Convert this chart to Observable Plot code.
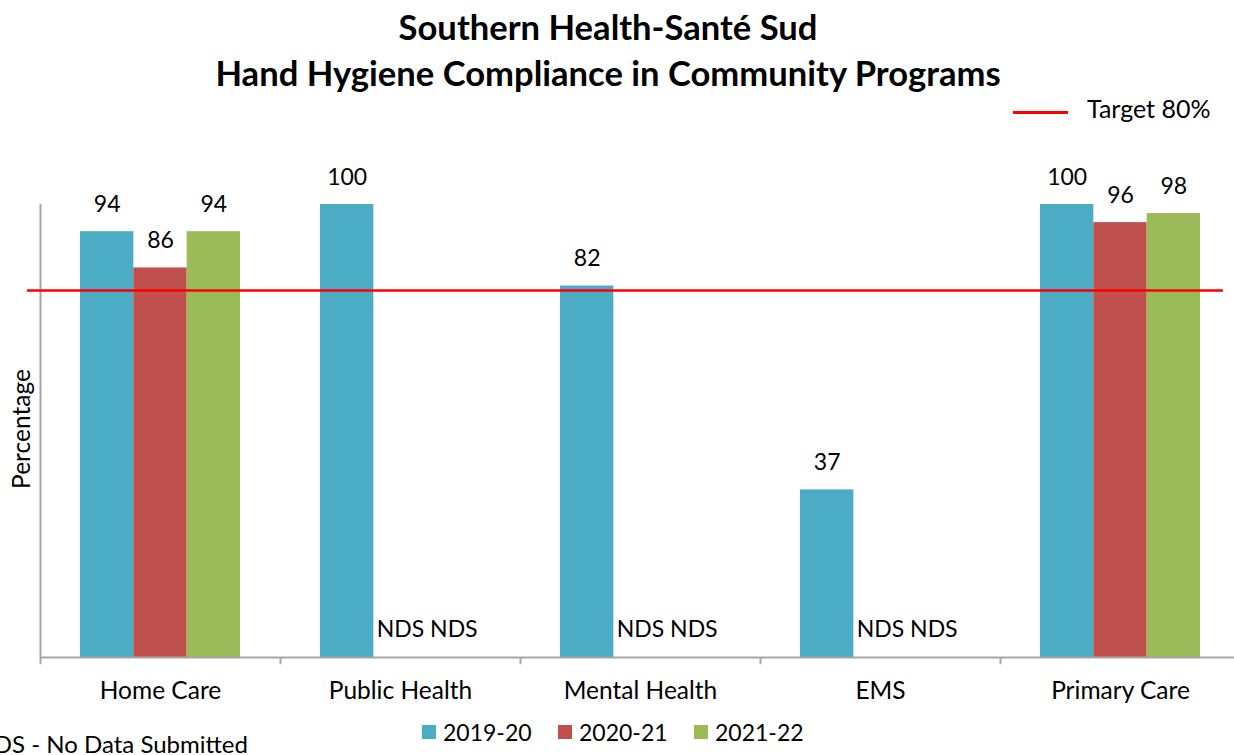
<!DOCTYPE html>
<html><head><meta charset="utf-8">
<script src="https://cdn.jsdelivr.net/npm/d3@7"></script>
<script src="https://cdn.jsdelivr.net/npm/@observablehq/plot@0.6"></script>
<style>
body{margin:0;background:#fff;font-family:Lato,sans-serif;color:#000;}
#wrap{position:relative;width:1234px;height:755px;overflow:hidden;}
#wrap svg{position:absolute;left:0;top:0;}
.t{position:absolute;white-space:nowrap;line-height:1;transform:translate(0,-50%);}
.c{transform:translate(-50%,-50%);}
.r{transform:translate(-100%,-50%);}
.sw{position:absolute;width:14px;height:14px;}
</style></head><body><div id="wrap"></div>
<script>
// ---- data ----
const categories = ["Home Care", "Public Health", "Mental Health", "EMS", "Primary Care"];
const series = ["2019-20", "2020-21", "2021-22"];
const values2019 = [94, 100, 82, 37, 100];
const values2020 = [86, null, null, null, 96];
const values2021 = [94, null, null, null, 98];
const seriesColors = ["#4BACC6", "#C0504D", "#9BBB59"];
const targetValue = 81;          // position of the red line as drawn
const targetLabel = "Target 80%";
const missingLabel = "NDS";
const missingNote = "NDS - No Data Submitted";
const titleLines = ["Southern Health-Santé Sud", "Hand Hygiene Compliance in Community Programs"];
const yLabel = "Percentage";

// ---- build ----
const seriesValues = [values2019, values2020, values2021];
const rows = categories.flatMap((c, i) => series.map((s, j) => ({category: c, series: s, value: seriesValues[j][i]})));

const W = 1234, H = 755;
const xRange = [40, 1240];
const bandW = (xRange[1] - xRange[0]) / categories.length;
const inner = d3.scaleBand(series, [0, bandW]).paddingInner(0).paddingOuter(0.75);
const bw = inner.bandwidth();
const axisGray = "#A6A6A6";

const marks = [];
series.forEach((s, j) => {
  const d = rows.filter(r => r.series === s);
  marks.push(Plot.barY(d.filter(r => r.value != null), {
    x: "category", y: "value", fill: seriesColors[j],
    insetLeft: inner(s), insetRight: bandW - inner(s) - bw
  }));
  const off = inner(s) + bw / 2 - bandW / 2;
  marks.push(Plot.text(d.filter(r => r.value != null), {
    x: "category", y: "value", text: r => String(r.value), dx: off, dy: -27,
    fontSize: 23, fill: "#000", lineAnchor: "middle"
  }));
  marks.push(Plot.text(d.filter(r => r.value == null), {
    x: "category", y: 0, text: () => missingLabel, dx: off, dy: -28,
    fontSize: 23, fill: "#000", lineAnchor: "middle"
  }));
});
// axes
marks.push(Plot.ruleY([0], {stroke: axisGray, strokeWidth: 2}));
marks.push(Plot.ruleX(categories, {x: d => d, dx: -bandW / 2, y1: 0, y2: -1.6, stroke: axisGray, strokeWidth: 2}));
marks.push(Plot.ruleX([categories[0]], {x: d => d, dx: -bandW / 2, y1: 0, y2: 100, stroke: axisGray, strokeWidth: 2}));
marks.push(Plot.axisX({tickSize: 0, tickPadding: 24, fontSize: 24.5, label: null}));
// target
marks.push(Plot.ruleY([targetValue], {stroke: "#FF0000", strokeWidth: 2.5, insetLeft: -13, insetRight: 11}));

const chart = Plot.plot({
  width: W, height: H,
  marginTop: 204, marginBottom: 98, marginLeft: 40, marginRight: 0,
  x: {domain: categories, range: xRange, padding: 0, axis: null},
  y: {domain: [0, 100], axis: null},
  style: {fontFamily: "Lato, sans-serif", fontSize: "23px", color: "#000", background: "transparent"},
  marks
});
const wrap = document.getElementById("wrap");
wrap.appendChild(chart);

function addText(txt, x, y, cls, style) {
  const el = document.createElement("div");
  el.className = "t " + (cls || "");
  el.textContent = txt;
  el.style.left = x + "px"; el.style.top = y + "px";
  Object.assign(el.style, style || {});
  wrap.appendChild(el);
  return el;
}
addText(titleLines[0], 608, 27, "c", {fontSize: "34.6px", fontWeight: "700"});
addText(titleLines[1], 608, 73, "c", {fontSize: "34.6px", fontWeight: "700"});
// target legend
const tl = document.createElement("div");
Object.assign(tl.style, {position: "absolute", left: "1013px", top: "111px", width: "55px", height: "3px", background: "#FF0000"});
wrap.appendChild(tl);
addText(targetLabel, 1087, 108, "", {fontSize: "25px"});
// series legend
const legX = [422, 558, 694];
series.forEach((s, j) => {
  const sw = document.createElement("div");
  sw.className = "sw";
  Object.assign(sw.style, {left: legX[j] + "px", top: "725px", background: seriesColors[j]});
  wrap.appendChild(sw);
  addText(s, legX[j] + 21, 732, "", {fontSize: "23px"});
});
addText(missingNote, 248, 744, "r", {fontSize: "24px"});
addText(yLabel, 21, 429, "c", {fontSize: "24.5px", transform: "translate(-50%,-50%) rotate(-90deg)"});
</script></body></html>
